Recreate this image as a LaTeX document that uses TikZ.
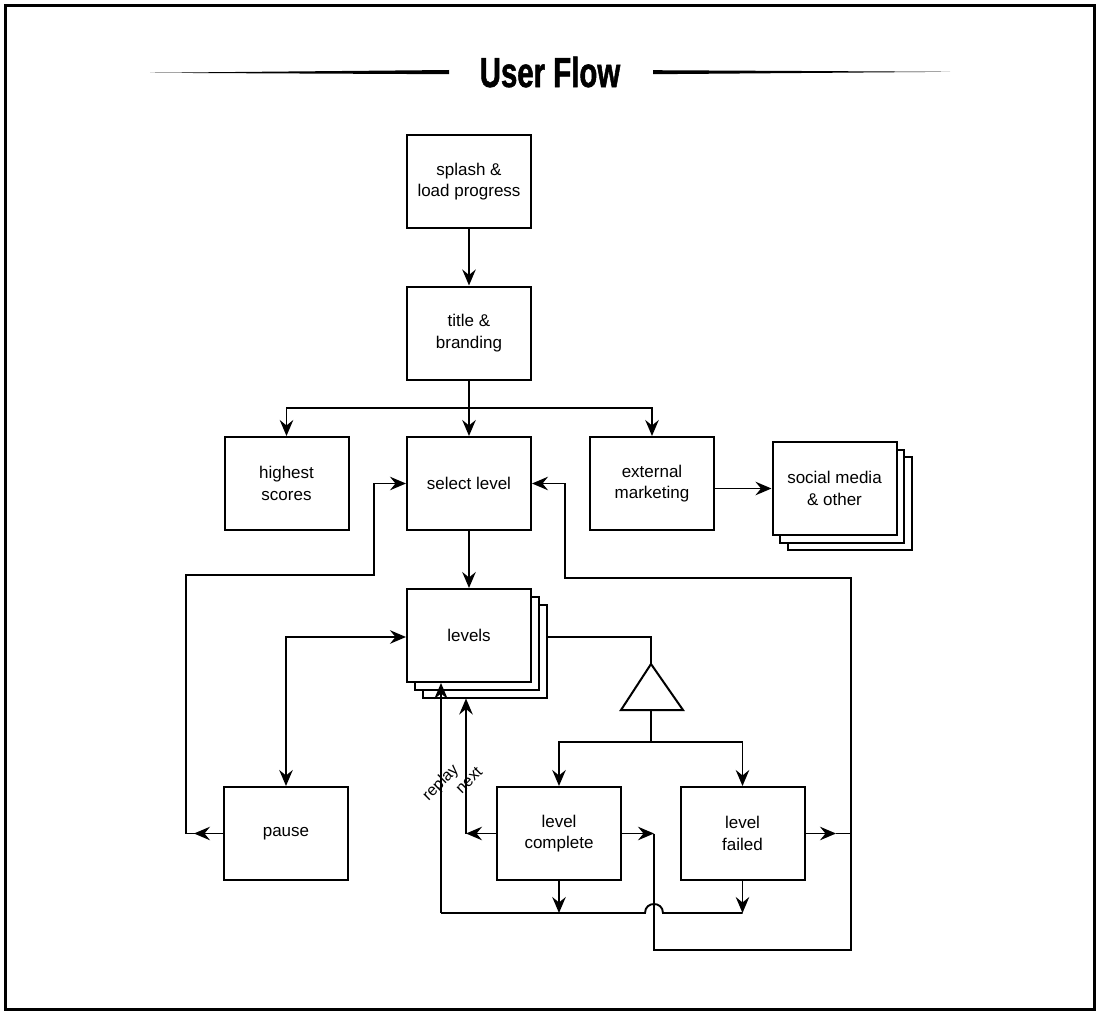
\documentclass[tikz,border=0pt]{standalone}
\usepackage{fontspec}
\setmainfont{Liberation Sans}
\newfontfamily\titlefont{Liberation Sans}[FakeStretch=0.70, BoldFeatures={FakeBold=1.2}]
\usetikzlibrary{arrows.meta}
\tikzset{
  box/.style={draw, line width=2pt, fill=white, minimum width=124pt, minimum height=93pt,
    align=center, inner sep=0pt, font=\fontsize{17}{21.5}\selectfont},
  conn/.style={line width=1.9pt},
  arr/.style={conn, -{Stealth[length=16pt, width=13.5pt, inset=5.5pt]}},
  biarr/.style={conn, {Stealth[length=16pt, width=13.5pt, inset=5.5pt]}-{Stealth[length=16pt, width=13.5pt, inset=5.5pt]}},
  lbl/.style={font=\fontsize{16}{18}\selectfont, rotate=45, inner sep=0pt}
}
\begin{document}
\begin{tikzpicture}[x=1pt,y=-1pt]
\useasboundingbox (0,0) rectangle (1100,1014);
% frame
\draw[line width=3pt] (5,6) rectangle (1094,1009);
% title
\node[font=\titlefont\bfseries\fontsize{42}{46}\selectfont, inner sep=0pt] (ttl) at (550,72) {User Flow};
\fill (150,72.8) -- (449,70) -- (449,74.2) -- cycle;
\fill (653,70.2) -- (950,71.8) -- (653,74.2) -- cycle;

% nodes
\node[box] (splash) at (469,181.5) {splash \&\\load progress};
\node[box] (title) at (469,333) {title \&\\branding};
\node[box] (highest) at (286.5,483.5) {highest\\scores};
\node[box] (select) at (469,483.5) {select level};
\node[box] (external) at (652,483.5) {external\\marketing};
\node[box] (social-b2) at (849.5,503.5) {};
\node[box] (social-b1) at (842,496) {};
\node[box] (social) at (834.5,488.5) {social media\\\& other};
\node[box] (levels-b2) at (484.5,651) {};
\node[box] (levels-b1) at (476.5,643.5) {};
\node[box] (levels) at (469,635.5) {levels};
\node[box] (pause) at (286,833.5) {pause};
\node[box] (complete) at (559,833.5) {level\\complete};
\node[box] (failed) at (742.5,833.5) {level\\failed};

% triangle
\coordinate (tritop) at (651,664);
\coordinate (tribot) at (651,710);
\draw[line width=2pt] (621,710) -- (tritop) -- (683,710) -- cycle;

% coordinates
\coordinate (branch) at (469,408);
\coordinate (split) at (651,742);
\coordinate (pl) at (186,833.5);
\coordinate (pltip) at (194,833.5);
\coordinate (plturn) at (374,575);
\coordinate (nextc) at (466,833.5);
\coordinate (rp) at (441,913);
\coordinate (hopR) at (663,913);
\coordinate (hopL) at (645,913);
\coordinate (cmpR) at (654,833.5);
\coordinate (cmptip) at (654,833.5);
\coordinate (bot) at (851,950);
\coordinate (rturn) at (565,578);
\coordinate (frR) at (851,833.5);
\coordinate (frtip) at (836,833.5);

% connectors
\draw[arr] (splash) -- (title);
\draw[arr] (title) -- (select);
\draw[arr] (branch) -| (highest.north);
\draw[arr] (branch) -| (external.north);
\draw[arr] (external.east |- social.west) -- (social.west);
\draw[arr] (select) -- (levels);
\draw[biarr] (levels.west |- 0,637) -| (pause.north);
% pause -> select
\draw[arr] (pause.west) -- (pltip);
\draw[arr] (pl -| pause.west) -- (pl) |- (plturn) |- (select.west);
% levels -> triangle
\draw[conn] (levels-b2.east |- 0,637) -| (tritop);
\draw[conn] (tribot) -- (split);
\draw[arr] (split) -| (complete.north);
\draw[arr] (split) -| (failed.north);
% next
\draw[arr] (complete.west) -- (nextc);
\draw[arr] (nextc) -- (nextc |- levels-b2.south);
% replay
\draw[arr] (complete.south) -- (complete.south |- rp);
\draw[arr] (failed.south) -- (failed.south |- rp);
\draw[conn] (failed.south |- rp) -- (hopR) .. controls (663,901) and (645,901) .. (hopL) -- (rp);
\draw[arr] (rp) -- (rp |- levels.south);
% complete / failed -> select
\draw[arr] (complete.east) -- (cmptip);
\draw[arr] (failed.east) -- (frtip);
\draw[conn] (frtip) -- (frR);
\draw[arr] (cmpR) |- (bot) |- (rturn) |- (select.east);

% labels
\node[lbl] (replay) at (441,783) {replay};
\node[lbl] (next) at (469,780) {next};
\end{tikzpicture}
\end{document}
